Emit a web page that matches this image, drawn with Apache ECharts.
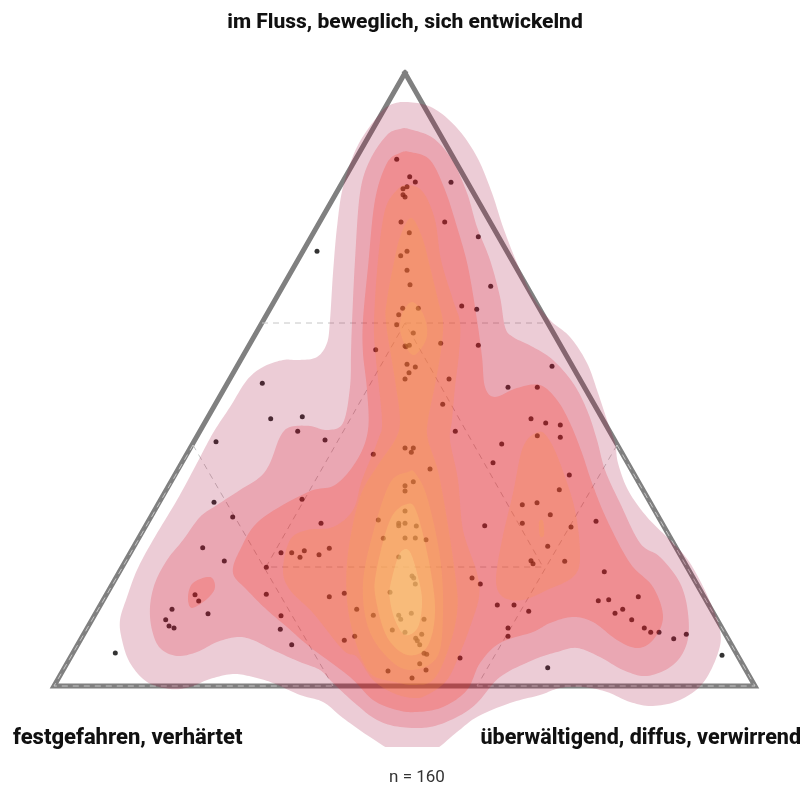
<!DOCTYPE html>
<html><head><meta charset="utf-8">
<style>html,body{margin:0;padding:0;background:#fff}#c{width:803px;height:789px}</style>
<script src="https://cdn.jsdelivr.net/npm/echarts@6/dist/echarts.min.js"></script></head>
<body><div id="c"></div>
<script>
const cornerLabels = ['im Fluss, beweglich, sich entwickelnd','festgefahren, verhärtet','überwältigend, diffus, verwirrend'];
const sampleLabel = 'n = 160';
const triangle = [[405,73],[755,686],[54,686],[405,73]];
const gridLines = [
 [[262,323],[548,323]],
 [[405,323],[266,567],[543,567],[405,323]],
 [[193,445],[333,686]],
 [[617,445],[477,686]],
 [[617,445],[755,686],[477,686]],
 [[193,445],[54,686],[333,686]]
];
const points = [[396.7,159.3],[409.7,176.7],[415.3,182],[407,186.7],[403,188.7],[403,194.7],[405,197],[451,182.3],[401,222],[444.7,222],[409.3,232.7],[478.3,236.7],[317,251.3],[407,251.3],[400.7,255.7],[407,270.3],[410,284.7],[490.7,286.3],[461.7,306],[476.7,309.3],[402.7,308.3],[418.3,308.3],[398.7,314.7],[396.7,324.7],
[413.3,333],[405,346],[406,346.7],[409.3,345.3],[440.7,343.3],[478.3,345.3],[375.7,349.7],[407,364.3],[415.3,367],[409,372.7],[405,379],[449,379],[552,366.3],[508,387.3],[537.3,387.3],[442.7,404.3],[531,418.7],[545.7,423],[560.3,425],[560.3,437.3],[537.3,435.7],[455.3,431.3],[501.7,444],[493,462.7],[302.3,416.7],[325,440],[373.3,454.3],[405,448],[413.3,448],[411.3,452.3],[430,469],[413.3,481.7],[405,485.7],[405,491],[302,499.3],[559.3,489.7],[569.3,475],[522.3,504.7],[537,502.7],[550.3,514.7],[522.3,523.3],[484.7,525.7],[321,523.3],[405,511],[378.3,520],[398.7,523.3],[398.7,525.7],[405,523.3],[416.3,526],[383.3,538.3],[405,538],[415.3,538],[426,539.7],
[304.3,550.7],[319,554.7],[329.3,548.3],[300,557.3],[398.7,557],[412,576],[413.7,578],[415.3,584],[390,592.3],[329.3,596.7],[344.3,593.3],[356.7,609.3],[373.3,615.3],[398.7,615.3],[400.7,619.3],[411.3,613.3],[424,619.3],[392.3,630],[405,632.3],[421.7,634.3],[415.7,638.3],[417.3,640.7],[419.7,644.7],[354.7,636.3],[344.3,640.3],[424,653.3],[426.7,654.3],[419.7,663.7],[426,670],[388,671],[412,678],[460,658],[472,578],[480.3,584],[497.3,605],[514,605],[528.7,611.3],[508,628],[508,636.3],[547.7,667.7],[547.7,546.3],[564.7,561.3],[531,560.7],[533,563.7],
[262.3,383.3],[270.7,418.7],[297.7,431.3],[216,441.7],[214,502.3],[232.7,517],[202.7,547.7],[224.3,561],[281,552.7],[291.7,552.7],[266.3,567.3],[195,594.7],[198.7,601],[172,609.3],[208,613.7],[165.7,619.7],[169,626],[174,628],[115.3,653],[266.3,594.3],[281,615.7],[280.3,629.3],[291.7,644.7],
[596,521.3],[571,527],[604.3,571.7],[638.3,596.7],[598.3,600.7],[608.7,599.7],[622.7,609.3],[615,613.3],[631.7,619.7],[644.3,628],[650.7,632.3],[659,632.3],[673.7,638.7],[686.3,634.3],[722,655.3]];

const level1 = [[[408,102],[433,108],[457,128],[477,157],[492,193],[503,227],[517,263],[533,297],[550,320],[570,337],[587,363],[598,393],[607,420],[615,443],[618,463],[628,490],[647,517],[673,543],[690,563],[708,597],[720,630],[718,653],[703,683],[680,700],[653,706],[630,702],[607,692],[583,687],[560,688],[540,695],[510,703],[477,717],[457,732],[430,752],[397,752],[370,737],[343,718],[323,702],[300,695],[273,683],[253,677],[233,674],[210,679],[190,687],[170,689],[147,682],[130,663],[122,640],[120,620],[127,597],[137,570],[153,540],[177,500],[197,463],[213,433],[230,407],[247,380],[263,367],[283,360],[300,360],[317,357],[327,343],[330,320],[333,273],[337,227],[343,187],[357,147],[377,117],[390,105]]];
const level2 = [[[409,129],[433,138],[452,160],[467,193],[477,227],[490,260],[500,297],[505,327],[513,337],[533,347],[553,360],[573,383],[587,410],[597,440],[605,470],[620,503],[640,543],[660,557],[680,583],[688,613],[687,643],[673,665],[647,676],[623,670],[600,657],[577,648],[557,652],[533,660],[500,677],[477,703],[457,717],[430,727],[400,727],[377,720],[357,705],[333,683],[320,670],[300,662],[273,650],[253,640],[237,637],[217,642],[197,652],[177,656],[160,648],[152,630],[150,607],[155,583],[167,560],[183,540],[200,517],[217,505],[240,490],[260,477],[270,463],[280,437],[290,427],[310,426],[327,430],[343,423],[350,387],[351,353],[352,323],[355,260],[360,193],[370,160],[387,135],[400,129]]];
const level3 = [[[410,152],[430,160],[445,190],[457,227],[468,267],[477,320],[482,357],[485,387],[495,397],[517,388],[540,385],[557,400],[570,423],[582,453],[592,483],[607,520],[630,563],[653,587],[663,617],[653,640],[637,648],[617,640],[593,622],[572,617],[550,623],[533,632],[500,643],[480,663],[467,690],[443,707],[417,712],[397,710],[373,700],[350,677],[310,647],[287,627],[267,610],[247,590],[233,573],[240,550],[260,520],[308,492],[335,485],[357,460],[368,430],[367,390],[363,353],[363,320],[368,267],[375,200],[387,163],[400,153]],
 [[188,597],[193,583],[210,577],[215,587],[208,598],[192,608]]];
const level4 = [[[408,185],[423,192],[435,220],[441,260],[453,300],[460,323],[459,353],[455,387],[452,420],[450,440],[458,480],[463,530],[477,573],[479,597],[470,627],[460,653],[447,680],[427,695],[413,698],[393,693],[373,680],[357,657],[343,650],[313,613],[290,590],[283,570],[290,540],[307,530],[333,527],[353,510],[362,480],[378,440],[382,420],[376,360],[374,323],[378,260],[385,210],[397,190]],
 [[538,432],[548,438],[560,463],[575,510],[580,557],[573,577],[547,590],[523,600],[503,597],[496,580],[502,540],[513,493],[523,447]]];
const level5 = [[[411,218],[422,237],[430,267],[438,300],[443,323],[441,350],[435,385],[428,420],[428,440],[440,480],[455,573],[457,613],[447,653],[433,680],[415,685],[395,682],[370,673],[355,640],[347,600],[348,553],[360,497],[378,465],[395,440],[400,420],[395,380],[386,323],[387,300],[393,267],[400,237]],
 [[539,522],[543,521],[544,535],[540,536]]];
const level6 = [[[412,302],[422,312],[427,328],[425,342],[414,355],[405,345],[400,328],[403,312]],
 [[408,472],[415,473],[427,497],[440,557],[443,613],[437,657],[410,670],[387,657],[368,627],[363,583],[373,533],[390,483]]];
const level7 = [[[407,504],[417,513],[430,567],[435,613],[427,647],[407,655],[387,637],[376,600],[376,573],[390,520]]];
const level8 = [[[403,550],[410,552],[417,573],[422,600],[418,627],[405,635],[395,620],[390,600],[390,587],[397,560]]];
const levels = [level1,level2,level3,level4,level5,level6,level7,level8];
const levelColors = ['rgba(160,0,50,.2)','rgba(226,14,34,.2)','rgba(254,41,8,.2)','rgba(253,141,49,.2)','rgba(251,170,60,.2)','rgba(253,195,92,.2)','rgba(255,228,118,.2)','rgba(255,255,170,.2)'];

// Round a ring of pixel vertices with a closed Catmull-Rom spline.
function closedSpline(pts){
  const n=pts.length, out=[];
  for(let i=0;i<n;i++){
    const p0=pts[(i-1+n)%n],p1=pts[i],p2=pts[(i+1)%n],p3=pts[(i+2)%n];
    for(let s=0;s<10;s++){
      const t=s/10,t2=t*t,t3=t2*t;
      out.push([0,1].map(k=>0.5*(2*p1[k]+(p2[k]-p0[k])*t+(2*p0[k]-5*p1[k]+4*p2[k]-p3[k])*t2+(3*p1[k]-p0[k]-3*p2[k]+p3[k])*t3)));
    }
  }
  return out;
}
const contourSeries = levels.map((rings,i)=>({
  type:'custom', coordinateSystem:'cartesian2d', silent:true, clip:true, z:5+i,
  data: rings.map((r,k)=>[k]),
  encode:{x:0,y:0},
  renderItem:(params,api)=>({
    type:'polygon',
    shape:{points:closedSpline(rings[params.dataIndex].map(p=>api.coord(p)))},
    style:{fill:levelColors[i],stroke:null}
  })
}));
const gridSeries = gridLines.map(l=>({
  type:'line',data:l,symbol:'none',silent:true,z:3,
  lineStyle:{color:'#c6c6c6',width:1,type:[6,5]}
}));
const chart = echarts.init(document.getElementById('c'),null,{renderer:'canvas'});
const titleFont = {fontFamily:'Roboto',fontWeight:800,fontSize:21,color:'#111'};
const leftFont = {fontFamily:'Roboto',fontWeight:800,fontSize:22,color:'#111'};
const rightFont = {fontFamily:'Roboto',fontWeight:800,fontSize:21.5,color:'#111'};
chart.setOption({
  animation:false,
  grid:{left:0,top:0,width:803,height:747,containLabel:false},
  xAxis:{type:'value',min:0,max:803,show:false},
  yAxis:{type:'value',min:0,max:747,inverse:true,show:false},
  title:[
    {text:cornerLabels[0],left:405,top:12,textAlign:'center',padding:0,textStyle:titleFont},
    {text:cornerLabels[1],left:13,top:727,padding:0,textStyle:leftFont},
    {text:cornerLabels[2],right:2,top:728,padding:0,textStyle:rightFont},
    {text:sampleLabel,left:417,top:769,textAlign:'center',padding:0,textStyle:{fontFamily:'Roboto',fontWeight:400,fontSize:17,color:'#333'}}
  ],
  series:[
    {type:'line',data:triangle,symbol:'none',silent:true,z:2,lineStyle:{color:'#808080',width:5,join:'miter',cap:'square'}},
    ...gridSeries,
    {type:'scatter',data:points,symbol:'circle',symbolSize:5,silent:true,z:4,itemStyle:{color:'#000'}},
    ...contourSeries
  ]
});
</script></body></html>
